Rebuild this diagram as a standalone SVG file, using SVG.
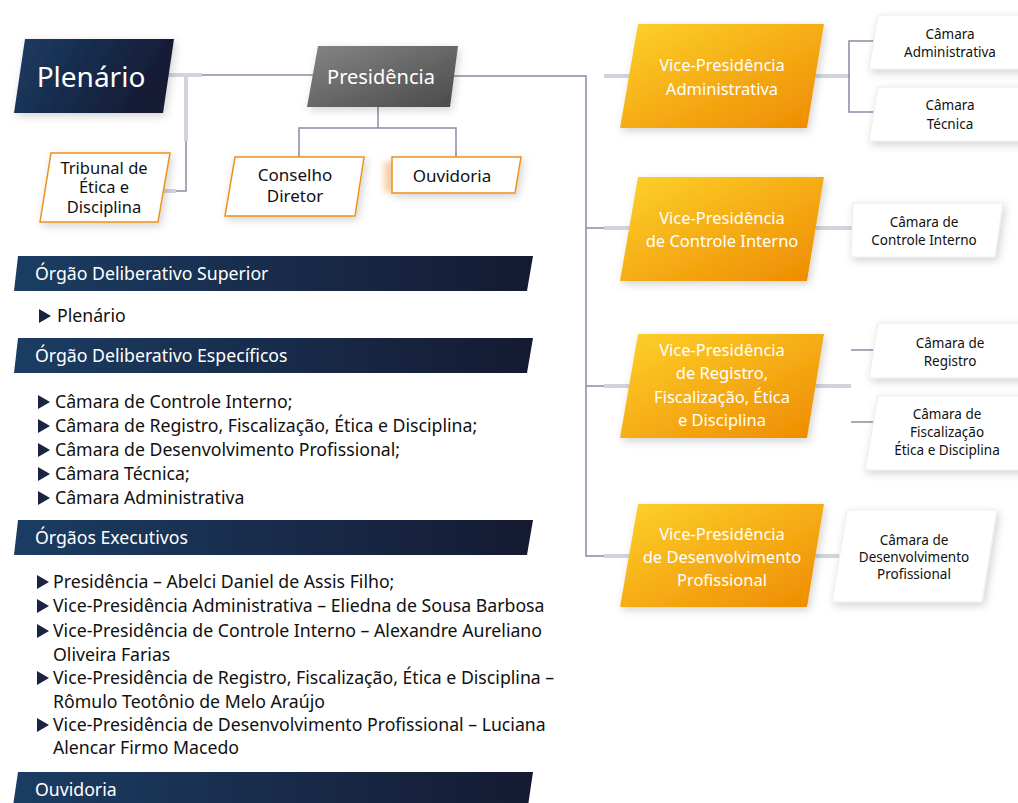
<svg xmlns="http://www.w3.org/2000/svg" width="1018" height="803" viewBox="0 0 1018 803">
<defs>
<linearGradient id="gNavy" x1="0" y1="0" x2="1" y2="0.3">
<stop offset="0" stop-color="#1b3c63"/><stop offset="1" stop-color="#161b34"/>
</linearGradient>
<linearGradient id="gBar" x1="0" y1="0" x2="1" y2="0">
<stop offset="0" stop-color="#1b3d63"/><stop offset="1" stop-color="#151a32"/>
</linearGradient>
<linearGradient id="gGray" x1="0" y1="0" x2="1" y2="1">
<stop offset="0" stop-color="#858585"/><stop offset="1" stop-color="#4a4a4a"/>
</linearGradient>
<linearGradient id="gOrange" x1="0" y1="0" x2="1" y2="1">
<stop offset="0" stop-color="#fdd12b"/><stop offset="1" stop-color="#ee8a00"/>
</linearGradient>
<filter id="sh" x="-20%" y="-20%" width="140%" height="150%">
<feDropShadow dx="2" dy="3" stdDeviation="4" flood-color="#000" flood-opacity="0.18"/>
</filter>
<filter id="blur" x="-50%" y="-50%" width="200%" height="200%"><feGaussianBlur stdDeviation="3"/></filter>
</defs>
<style>
text{font-family:"Noto Sans","Open Sans","DejaVu Sans",sans-serif;}
.w{fill:#fff;text-anchor:middle;}
.k{fill:#111;text-anchor:middle;}
.ln{fill:none;stroke:#8c8aa3;stroke-width:1.5;}
.th{fill:none;stroke:#d3d3dc;stroke-width:4;}
.ob{fill:#fff;stroke:#f0901a;stroke-width:1.5;}
.cb{fill:#fff;stroke:#ececec;stroke-width:1;}
.hd{fill:#fff;font-size:17.7px;}
.li{fill:#111;font-size:17.7px;}
.tri{fill:#1a2440;}
</style>

<g id="connectors">
<line class="ln" x1="200" y1="75" x2="320" y2="75"/>
<line class="th" x1="168" y1="75" x2="202" y2="75"/>
<polyline class="ln" points="186,140 186,191 166,191"/>
<line class="th" x1="186" y1="75" x2="186" y2="141"/>
<line class="th" x1="163" y1="191" x2="176" y2="191"/>
<polyline class="ln" points="378,107 378,128"/>
<polyline class="ln" points="299,157 299,128 456,128 456,157"/>
<polyline class="ln" points="450,76 586,76 586,556 606,556"/>
<line class="ln" x1="586" y1="228" x2="606" y2="228"/>
<line class="ln" x1="586" y1="386" x2="606" y2="386"/>
<line class="th" x1="604" y1="76" x2="632" y2="76"/>
<line class="th" x1="604" y1="228" x2="632" y2="228"/>
<line class="th" x1="604" y1="386" x2="632" y2="386"/>
<line class="th" x1="604" y1="556" x2="632" y2="556"/>
<line class="th" x1="805" y1="76" x2="850" y2="76"/>
<polyline class="ln" points="878,41 849,41 849,112 878,112"/>
<line class="th" x1="805" y1="228" x2="854" y2="228"/>
<line class="th" x1="805" y1="386" x2="851" y2="386"/>
<line class="ln" x1="851" y1="350" x2="874" y2="350"/>
<line class="ln" x1="851" y1="422" x2="874" y2="422"/>
<line class="th" x1="805" y1="556" x2="840" y2="556"/>
</g>

<g id="plenario">
<polygon points="25,39 174,39 163,113 14,113" fill="url(#gNavy)" filter="url(#sh)"/>
<text class="w" x="91" y="87" font-size="28">Plenário</text>
</g>
<g id="tribunal">
<polygon class="ob" points="51,153 170,153 158,222 40,222" filter="url(#sh)"/>
<text class="k" font-size="16.5"><tspan x="104" y="174">Tribunal de</tspan><tspan x="104" y="193">Ética e</tspan><tspan x="104" y="213">Disciplina</tspan></text>
</g>
<g id="presidencia">
<polygon points="318,46 458,46 450,107 307,107" fill="url(#gGray)" filter="url(#sh)"/>
<text class="w" x="381" y="84" font-size="20">Presidência</text>
</g>
<g id="conselho">
<polygon class="ob" points="235,157 364,157 355,216 225,216" filter="url(#sh)"/>
<text class="k" font-size="17"><tspan x="295" y="181">Conselho</tspan><tspan x="295" y="202">Diretor</tspan></text>
</g>
<g id="ouvidoria">
<rect x="384" y="162" width="10" height="30" fill="#f7b26a" opacity="0.6" filter="url(#blur)"/>
<polygon class="ob" points="392,157 521,157 515,193 392,193" filter="url(#sh)"/>
<text class="k" x="452" y="182" font-size="17">Ouvidoria</text>
</g>

<g id="vp-adm">
<polygon points="638,24 824,24 807,128 620,128" fill="url(#gOrange)" filter="url(#sh)"/>
<text class="w" font-size="16.5"><tspan x="722" y="71">Vice-Presidência</tspan><tspan x="722" y="95">Administrativa</tspan></text>
</g>
<g id="vp-ci">
<polygon points="638,177 824,177 807,281 620,281" fill="url(#gOrange)" filter="url(#sh)"/>
<text class="w" font-size="16.5"><tspan x="722" y="224">Vice-Presidência</tspan><tspan x="722" y="247">de Controle Interno</tspan></text>
</g>
<g id="vp-reg">
<polygon points="638,334 824,334 807,438 620,438" fill="url(#gOrange)" filter="url(#sh)"/>
<text class="w" font-size="16.5"><tspan x="722" y="356">Vice-Presidência</tspan><tspan x="722" y="379">de Registro,</tspan><tspan x="722" y="403">Fiscalização, Ética</tspan><tspan x="722" y="426">e Disciplina</tspan></text>
</g>
<g id="vp-dev">
<polygon points="638,504 824,504 807,607 620,607" fill="url(#gOrange)" filter="url(#sh)"/>
<text class="w" font-size="16.5"><tspan x="722" y="540">Vice-Presidência</tspan><tspan x="722" y="563">de Desenvolvimento</tspan><tspan x="722" y="586">Profissional</tspan></text>
</g>

<g id="cam-adm">
<polygon class="cb" points="878,15 1030,15 1030,69 869,69" filter="url(#sh)"/>
<text class="k" font-size="13.5"><tspan x="950" y="39">Câmara</tspan><tspan x="950" y="57">Administrativa</tspan></text>
</g>
<g id="cam-tec">
<polygon class="cb" points="878,87 1030,87 1030,141 869,141" filter="url(#sh)"/>
<text class="k" font-size="13.5"><tspan x="950" y="110">Câmara</tspan><tspan x="950" y="129">Técnica</tspan></text>
</g>
<g id="cam-ci">
<polygon class="cb" points="853,203 1003,203 995,257 851,257" filter="url(#sh)"/>
<text class="k" font-size="13.5"><tspan x="924" y="227">Câmara de</tspan><tspan x="924" y="245">Controle Interno</tspan></text>
</g>
<g id="cam-reg">
<polygon class="cb" points="878,323 1030,323 1030,378 869,378" filter="url(#sh)"/>
<text class="k" font-size="13.5"><tspan x="950" y="348">Câmara de</tspan><tspan x="950" y="366">Registro</tspan></text>
</g>
<g id="cam-fis">
<polygon class="cb" points="878,396 1030,396 1030,470 865,470" filter="url(#sh)"/>
<text class="k" font-size="13.5"><tspan x="947" y="419">Câmara de</tspan><tspan x="947" y="437">Fiscalização</tspan><tspan x="947" y="455">Ética e Disciplina</tspan></text>
</g>
<g id="cam-dev">
<polygon class="cb" points="847,510 997,510 982,602 832,602" filter="url(#sh)"/>
<text class="k" font-size="13.5"><tspan x="914" y="545">Câmara de</tspan><tspan x="914" y="562">Desenvolvimento</tspan><tspan x="914" y="579">Profissional</tspan></text>
</g>

<g id="sec-superior">
<polygon points="18,256 533,256 527,291 14,291" fill="url(#gBar)"/>
<text class="hd" x="35" y="280">Órgão Deliberativo Superior</text>
<polygon class="tri" points="39,309 39,323 51,316"/>
<text class="li" x="57" y="322">Plenário</text>
</g>
<g id="sec-especificos">
<polygon points="18,338 533,338 527,373 14,373" fill="url(#gBar)"/>
<text class="hd" x="35" y="362">Órgão Deliberativo Específicos</text>
<polygon class="tri" points="38,395 38,409 50,402"/>
<polygon class="tri" points="38,419 38,433 50,426"/>
<polygon class="tri" points="38,443 38,457 50,450"/>
<polygon class="tri" points="38,467 38,481 50,474"/>
<polygon class="tri" points="38,491 38,505 50,498"/>
<text class="li"><tspan x="55" y="408">Câmara de Controle Interno;</tspan><tspan x="55" y="432">Câmara de Registro, Fiscalização, Ética e Disciplina;</tspan><tspan x="55" y="456">Câmara de Desenvolvimento Profissional;</tspan><tspan x="55" y="480">Câmara Técnica;</tspan><tspan x="55" y="504">Câmara Administrativa</tspan></text>
</g>
<g id="sec-executivos">
<polygon points="18,520 533,520 527,555 14,555" fill="url(#gBar)"/>
<text class="hd" x="35" y="544">Órgãos Executivos</text>
<polygon class="tri" points="37,575 37,589 49,582"/>
<polygon class="tri" points="37,599 37,613 49,606"/>
<polygon class="tri" points="37,624 37,638 49,631"/>
<polygon class="tri" points="37,671 37,685 49,678"/>
<polygon class="tri" points="37,718 37,732 49,725"/>
<text class="li"><tspan x="53" y="588">Presidência – Abelci Daniel de Assis Filho;</tspan><tspan x="53" y="612">Vice-Presidência Administrativa – Eliedna de Sousa Barbosa</tspan><tspan x="53" y="637">Vice-Presidência de Controle Interno – Alexandre Aureliano</tspan><tspan x="53" y="661">Oliveira Farias</tspan><tspan x="53" y="684">Vice-Presidência de Registro, Fiscalização, Ética e Disciplina –</tspan><tspan x="53" y="708">Rômulo Teotônio de Melo Araújo</tspan><tspan x="53" y="731">Vice-Presidência de Desenvolvimento Profissional – Luciana</tspan><tspan x="53" y="754">Alencar Firmo Macedo</tspan></text>
</g>
<g id="sec-ouvidoria">
<polygon points="18,772 533,772 528,806 13,806" fill="url(#gBar)"/>
<text class="hd" x="35" y="796">Ouvidoria</text>
</g>
</svg>
